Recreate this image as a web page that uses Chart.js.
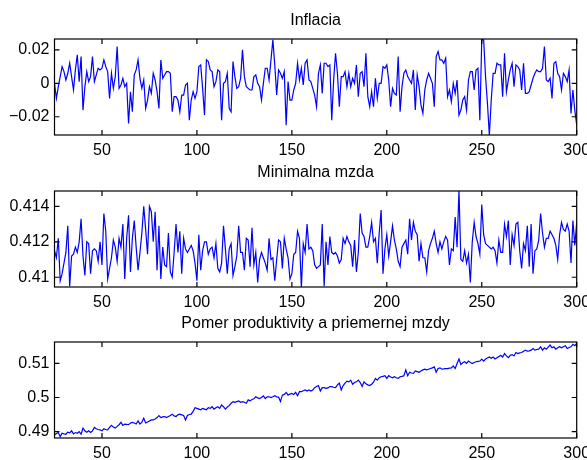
<!DOCTYPE html>
<html>
<head>
<meta charset="utf-8">
<script src="https://cdn.jsdelivr.net/npm/chart.js@4.4.1/dist/chart.umd.min.js"></script>
<style>
body { margin: 0; width: 587px; height: 460px; overflow: hidden; background: #fff; }
.panel { position: absolute; left: 0; width: 587px; height: 160px; }
</style>
</head>
<body>
<div class="panel" style="top:0px"><canvas id="c1" width="587" height="160"></canvas></div>
<div class="panel" style="top:152px"><canvas id="c2" width="587" height="160"></canvas></div>
<div class="panel" style="top:303px"><canvas id="c3" width="587" height="160"></canvas></div>
<script>
// x runs from 25 to 300, one value per step
const xStart = 25;
const xEnd = 300;
const xTicks = [50, 100, 150, 200, 250, 300];

const inflacia = [
    0, -0.009, -0.002, 0.004, 0.010, 0.007, 0.002, 0.006, 0.012, 0.004,
    -0.004, 0.008, 0.017, 0.001, 0.016, -0.016, -0.002, 0.007, 0.001, 0.004,
    0.016, 0.001, 0.005, 0.009, 0.008, 0.009, 0.014, 0.010, 0.007, -0.009,
    0.006, -0.003, 0.004, 0.022, -0.003, -0.001, 0.003, -0.002, 0.000, -0.024,
    -0.005, -0.017, 0.005, 0.008, 0.014, 0.003, -0.003, 0.002, -0.015, -0.010,
    -0.002, -0.006, 0.006, 0.002, -0.005, -0.015, 0.014, 0.003, 0.005, 0.007,
    0.007, 0.006, -0.017, -0.008, -0.008, -0.010, -0.017, -0.007, -0.007, -0.001,
    0.000, -0.022, -0.010, -0.005, -0.009, -0.005, 0.010, 0.011, -0.003, -0.019,
    0.014, 0.013, 0.008, 0.007, -0.002, 0.001, 0.008, 0.007, -0.022, 0.000,
    0.001, 0.006, -0.015, -0.017, 0.013, 0.004, -0.003, -0.002, 0.003, 0.020,
    0.004, -0.002, -0.003, -0.004, -0.004, 0.004, 0.005, 0.000, -0.002, -0.010,
    0.000, 0.009, 0.009, 0.002, 0.014, 0.026, 0.011, -0.007, 0.008, 0.006,
    0.003, 0.007, -0.025, 0.001, -0.010, -0.010, -0.004, 0.000, 0.012, 0.002,
    0.009, -0.001, 0.012, 0.014, 0.002, 0.001, -0.003, -0.007, -0.014, 0.006,
    0.011, -0.006, 0.012, 0.012, 0.010, 0.011, -0.022, 0.002, 0.018, 0.006,
    -0.014, 0.004, 0.004, 0.007, -0.002, 0.006, -0.002, 0.003, 0.000, 0.011,
    -0.008, 0.006, 0.007, -0.002, 0.018, -0.008, -0.014, -0.005, -0.014, 0.003,
    -0.009, 0.000, 0.000, 0.010, 0.009, 0.011, 0.002, -0.014, -0.003, -0.006,
    -0.007, 0.016, -0.017, -0.002, 0.006, 0.008, 0.004, 0.002, 0.000, 0.008,
    -0.016, 0.005, -0.002, -0.013, -0.018, -0.004, 0.002, 0.006, 0.003, 0.000,
    -0.014, 0.016, 0.019, 0.014, 0.014, 0.012, 0.015, -0.008, -0.004, -0.011,
    0.000, -0.006, 0.002, -0.019, -0.016, -0.010, -0.008, -0.016, 0.002, 0.007,
    0.007, -0.004, 0.008, 0.009, -0.022, 0.026, 0.026, 0.004, -0.012, -0.031,
    -0.010, 0.006, 0.006, 0.012, 0.011, 0.011, -0.008, 0.018, -0.005, 0.002,
    0.008, 0.012, -0.002, 0.011, 0.010, 0.008, -0.004, 0.012, -0.006, -0.006,
    -0.005, -0.001, 0.003, 0.006, 0.008, 0.007, 0.007, 0.009, 0.022, 0.002,
    0.001, 0.003, -0.009, 0.012, 0.013, 0.006, 0.004, -0.004, 0.006, 0.004,
    0.001, 0.008, -0.018, -0.004, -0.016, -0.025
];

const minimalnaMzda = [
    0.4115, 0.4111, 0.4122, 0.4098, 0.4102, 0.4108, 0.4114, 0.4129, 0.4095, 0.4112,
    0.4113, 0.4117, 0.4114, 0.4120, 0.4133, 0.4112, 0.4101, 0.4120, 0.4119, 0.4102,
    0.4115, 0.4116, 0.4115, 0.4109, 0.4120, 0.4107, 0.4136, 0.4126, 0.4099, 0.4105,
    0.4111, 0.4121, 0.4117, 0.4109, 0.4122, 0.4117, 0.4130, 0.4099, 0.4122, 0.4135,
    0.4103, 0.4122, 0.4132, 0.4117, 0.4104, 0.4114, 0.4125, 0.4140, 0.4127, 0.4113,
    0.4140, 0.4137, 0.4120, 0.4137, 0.4104, 0.4129, 0.4099, 0.4117, 0.4107, 0.4106,
    0.4125, 0.4103, 0.4100, 0.4114, 0.4130, 0.4114, 0.4126, 0.4102, 0.4122, 0.4116,
    0.4114, 0.4116, 0.4118, 0.4115, 0.4108, 0.4098, 0.4124, 0.4104, 0.4115, 0.4120,
    0.4120, 0.4113, 0.4116, 0.4117, 0.4111, 0.4119, 0.4105, 0.4103, 0.4108, 0.4129,
    0.4116, 0.4102, 0.4116, 0.4119, 0.4101, 0.4106, 0.4112, 0.4129, 0.4114, 0.4114,
    0.4104, 0.4122, 0.4121, 0.4106, 0.4128, 0.4107, 0.4114, 0.4097, 0.4110, 0.4114,
    0.4111, 0.4108, 0.4104, 0.4122, 0.4110, 0.4111, 0.4098, 0.4110, 0.4121, 0.4120,
    0.4105, 0.4122, 0.4116, 0.4111, 0.4099, 0.4102, 0.4113, 0.4114, 0.4126, 0.4122,
    0.4094, 0.4119, 0.4114, 0.4130, 0.4116, 0.4117, 0.4115, 0.4107, 0.4105, 0.4106,
    0.4107, 0.4130, 0.4095, 0.4120, 0.4107, 0.4123, 0.4114, 0.4113, 0.4114, 0.4112,
    0.4108, 0.4110, 0.4122, 0.4119, 0.4123, 0.4120, 0.4118, 0.4106, 0.4121, 0.4103,
    0.4114, 0.4136, 0.4125, 0.4123, 0.4117, 0.4117, 0.4123, 0.4131, 0.4120, 0.4122,
    0.4108, 0.4125, 0.4138, 0.4102, 0.4116, 0.4124, 0.4112, 0.4120, 0.4129, 0.4121,
    0.4116, 0.4109, 0.4106, 0.4117, 0.4119, 0.4121, 0.4113, 0.4133, 0.4121, 0.4131,
    0.4126, 0.4124, 0.4109, 0.4119, 0.4111, 0.4111, 0.4103, 0.4115, 0.4119, 0.4122,
    0.4126, 0.4119, 0.4114, 0.4120, 0.4116, 0.4120, 0.4123, 0.4121, 0.4107, 0.4116,
    0.4115, 0.4134, 0.4117, 0.4149, 0.4110, 0.4109, 0.4115, 0.4108, 0.4113, 0.4097,
    0.4120, 0.4131, 0.4123, 0.4119, 0.4113, 0.4141, 0.4124, 0.4119, 0.4118, 0.4117,
    0.4116, 0.4117, 0.4115, 0.4108, 0.4121, 0.4114, 0.4114, 0.4130, 0.4123, 0.4132,
    0.4107, 0.4124, 0.4118, 0.4130, 0.4131, 0.4115, 0.4105, 0.4119, 0.4115, 0.4129,
    0.4106, 0.4130, 0.4102, 0.4115, 0.4116, 0.4121, 0.4136, 0.4125, 0.4117, 0.4122,
    0.4122, 0.4126, 0.4124, 0.4122, 0.4118, 0.4110, 0.4124, 0.4131, 0.4127, 0.4126,
    0.4130, 0.4126, 0.4108, 0.4132, 0.4118, 0.4131
];

const pomerProduktivity = [
    0.4890, 0.4894, 0.4897, 0.4885, 0.4895, 0.4893, 0.4892, 0.4898, 0.4896, 0.4902,
    0.4893, 0.4897, 0.4895, 0.4900, 0.4892, 0.4910, 0.4902, 0.4898, 0.4902, 0.4897,
    0.4902, 0.4912, 0.4908, 0.4906, 0.4905, 0.4902, 0.4908, 0.4906, 0.4905, 0.4912,
    0.4918, 0.4913, 0.4910, 0.4915, 0.4920, 0.4927, 0.4918, 0.4922, 0.4921, 0.4920,
    0.4925, 0.4927, 0.4925, 0.4922, 0.4931, 0.4922, 0.4927, 0.4939, 0.4925, 0.4928,
    0.4931, 0.4934, 0.4934, 0.4937, 0.4941, 0.4947, 0.4941, 0.4943, 0.4944, 0.4941,
    0.4944, 0.4947, 0.4951, 0.4946, 0.4944, 0.4949, 0.4951, 0.4949, 0.4947, 0.4934,
    0.4947, 0.4950, 0.4951, 0.4959, 0.4970, 0.4968, 0.4966, 0.4964, 0.4968, 0.4966,
    0.4964, 0.4970, 0.4968, 0.4973, 0.4966, 0.4970, 0.4973, 0.4968, 0.4978, 0.4973,
    0.4966, 0.4972, 0.4976, 0.4983, 0.4988, 0.4986, 0.4988, 0.4990, 0.4986, 0.4988,
    0.4986, 0.4983, 0.4993, 0.4990, 0.4994, 0.4996, 0.5002, 0.4999, 0.4997, 0.5000,
    0.5005, 0.4997, 0.5002, 0.5002, 0.5000, 0.5002, 0.5005, 0.5002, 0.5001, 0.4988,
    0.5007, 0.5009, 0.5015, 0.5007, 0.5010, 0.5012, 0.5009, 0.5015, 0.5005, 0.5017,
    0.5017, 0.5020, 0.5022, 0.5019, 0.5022, 0.5019, 0.5022, 0.5029, 0.5032, 0.5035,
    0.5019, 0.5029, 0.5029, 0.5027, 0.5028, 0.5032, 0.5032, 0.5030, 0.5029, 0.5037,
    0.5042, 0.5022, 0.5035, 0.5042, 0.5048, 0.5046, 0.5051, 0.5039, 0.5044, 0.5046,
    0.5051, 0.5044, 0.5032, 0.5046, 0.5040, 0.5037, 0.5035, 0.5039, 0.5045, 0.5056,
    0.5051, 0.5058, 0.5061, 0.5062, 0.5064, 0.5056, 0.5064, 0.5060, 0.5058, 0.5061,
    0.5058, 0.5056, 0.5061, 0.5062, 0.5064, 0.5081, 0.5064, 0.5074, 0.5072, 0.5071,
    0.5078, 0.5076, 0.5074, 0.5078, 0.5081, 0.5083, 0.5081, 0.5083, 0.5085, 0.5087,
    0.5090, 0.5074, 0.5085, 0.5087, 0.5083, 0.5084, 0.5085, 0.5085, 0.5086, 0.5087,
    0.5093, 0.5085, 0.5100, 0.5113, 0.5097, 0.5102, 0.5105, 0.5100, 0.5107, 0.5103,
    0.5100, 0.5103, 0.5105, 0.5106, 0.5107, 0.5113, 0.5107, 0.5113, 0.5116, 0.5119,
    0.5115, 0.5119, 0.5113, 0.5117, 0.5120, 0.5124, 0.5119, 0.5129, 0.5122, 0.5117,
    0.5124, 0.5126, 0.5122, 0.5132, 0.5129, 0.5131, 0.5132, 0.5136, 0.5139, 0.5136,
    0.5137, 0.5139, 0.5144, 0.5139, 0.5141, 0.5142, 0.5149, 0.5139, 0.5146, 0.5142,
    0.5148, 0.5154, 0.5146, 0.5149, 0.5142, 0.5146, 0.5149, 0.5146, 0.5149, 0.5152,
    0.5144, 0.5147, 0.5149, 0.5156, 0.5152, 0.5159
];

const inflTicks = [-0.02, 0, 0.02];
const inflTickLabels = ['\u22120.02', '0', '0.02'];
const mzdaTicks = [0.41, 0.412, 0.414];
const mzdaTickLabels = ['0.41', '0.412', '0.414'];
const pomerTicks = [0.49, 0.5, 0.51];
const pomerTickLabels = ['0.49', '0.5', '0.51'];

const FONT = { family: '"Liberation Sans", Arial, Helvetica, sans-serif', size: 16 };

// MATLAB-like box with inward ticks on all four sides
const boxPlugin = {
    id: 'matlabBox',
    afterDraw(chart) {
        const { ctx, chartArea: a, scales } = chart;
        ctx.save();
        ctx.strokeStyle = '#000';
        ctx.lineWidth = 1.2;
        ctx.strokeRect(a.left, a.top, a.right - a.left, a.bottom - a.top);
        ctx.beginPath();
        scales.x.ticks.forEach(t => {
            const px = scales.x.getPixelForValue(t.value);
            ctx.moveTo(px, a.bottom); ctx.lineTo(px, a.bottom - 5);
            ctx.moveTo(px, a.top); ctx.lineTo(px, a.top + 5);
        });
        scales.y.ticks.forEach(t => {
            const py = scales.y.getPixelForValue(t.value);
            ctx.moveTo(a.left, py); ctx.lineTo(a.left + 5, py);
            ctx.moveTo(a.right, py); ctx.lineTo(a.right - 5, py);
        });
        ctx.stroke();
        ctx.restore();
    }
};

function makePanel(id, title, values, yMin, yMax, yTicks, yLabels) {
    const points = values.map((v, i) => ({ x: xStart + i, y: v }));
    new Chart(document.getElementById(id), {
        type: 'line',
        data: {
            datasets: [{
                data: points,
                borderColor: '#0000ff',
                borderWidth: 1.2,
                pointRadius: 0,
                tension: 0,
                fill: false
            }]
        },
        options: {
            responsive: false,
            animation: false,
            layout: { padding: { top: 0, left: 0, right: 10.3, bottom: 0 } },
            plugins: {
                legend: { display: false },
                tooltip: { enabled: false },
                title: {
                    display: true,
                    fullSize: false,
                    text: title,
                    color: '#000',
                    font: { family: FONT.family, size: FONT.size, weight: 'normal' },
                    padding: { top: 11.4, bottom: 8.4 }
                }
            },
            scales: {
                x: {
                    type: 'linear',
                    min: xStart,
                    max: xEnd,
                    grid: { display: false, drawTicks: false, tickLength: 0 },
                    border: { display: false },
                    afterBuildTicks: s => { s.ticks = xTicks.map(v => ({ value: v })); },
                    afterFit: s => { s.height = 25; s.paddingLeft = 0; s.paddingRight = 0; },
                    ticks: {
                        color: '#000',
                        font: FONT,
                        padding: 6,
                        maxRotation: 0,
                        autoSkip: false,
                        callback: v => String(v)
                    }
                },
                y: {
                    min: yMin,
                    max: yMax,
                    grid: { display: false, drawTicks: false, tickLength: 0 },
                    border: { display: false },
                    afterBuildTicks: s => { s.ticks = yTicks.map(v => ({ value: v })); },
                    afterFit: s => { s.width = 54.5; s.paddingTop = 0; s.paddingBottom = 0; },
                    ticks: {
                        color: '#000',
                        font: FONT,
                        padding: 5,
                        autoSkip: false,
                        callback: (v, i) => yLabels[i]
                    }
                }
            }
        },
        plugins: [boxPlugin]
    });
}

makePanel('c1', 'Inflacia', inflacia, -0.0309, 0.0265, inflTicks, inflTickLabels);
makePanel('c2', 'Minimalna mzda', minimalnaMzda, 0.40945, 0.41487, mzdaTicks, mzdaTickLabels);
makePanel('c3', 'Pomer produktivity a priemernej mzdy', pomerProduktivity, 0.4881, 0.5163, pomerTicks, pomerTickLabels);
</script>
</body>
</html>
